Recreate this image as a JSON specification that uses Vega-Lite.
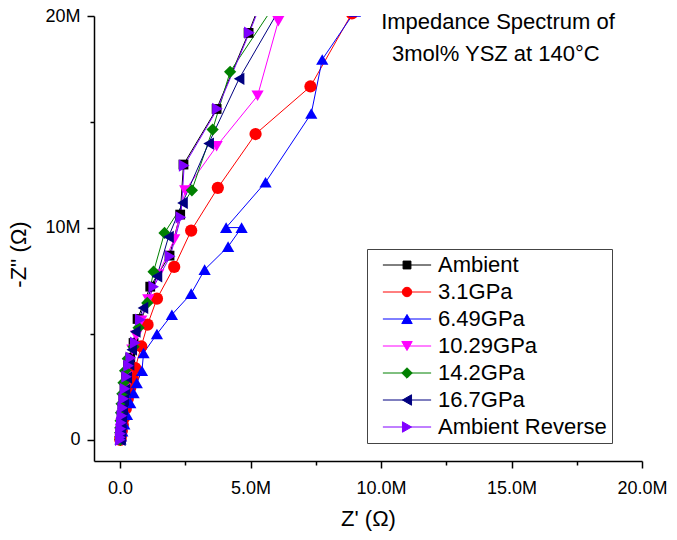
{
  "$schema": "https://vega.github.io/schema/vega-lite/v6.json",
  "width": 548,
  "height": 445,
  "autosize": {"type": "none"},
  "padding": {"left": 94, "top": 16, "right": 35, "bottom": 79},
  "background": "white",
  "config": {
    "view": {"stroke": null},
    "font": "Liberation Sans",
    "axis": {
      "grid": false,
      "domainColor": "black",
      "domainWidth": 1.5,
      "tickColor": "black",
      "tickWidth": 1.5,
      "labelFont": "Liberation Sans",
      "labelFontSize": 18,
      "labelColor": "black",
      "titleFont": "Liberation Sans",
      "titleFontSize": 22,
      "titleFontWeight": "normal",
      "titleColor": "black"
    }
  },
  "data": {
    "values": [
      {"s": "Ambient", "n": 1, "x": 8000, "y": 0},
      {"s": "Ambient", "n": 2, "x": 8000, "y": 118000},
      {"s": "Ambient", "n": 3, "x": 15000, "y": 283000},
      {"s": "Ambient", "n": 4, "x": 27000, "y": 520000},
      {"s": "Ambient", "n": 5, "x": 42000, "y": 803000},
      {"s": "Ambient", "n": 6, "x": 61000, "y": 1134000},
      {"s": "Ambient", "n": 7, "x": 92000, "y": 1512000},
      {"s": "Ambient", "n": 8, "x": 126000, "y": 1937000},
      {"s": "Ambient", "n": 9, "x": 172000, "y": 2409000},
      {"s": "Ambient", "n": 10, "x": 230000, "y": 2976000},
      {"s": "Ambient", "n": 11, "x": 306000, "y": 3496000},
      {"s": "Ambient", "n": 12, "x": 390000, "y": 3873000},
      {"s": "Ambient", "n": 13, "x": 516000, "y": 4568000},
      {"s": "Ambient", "n": 14, "x": 669000, "y": 5702000},
      {"s": "Ambient", "n": 15, "x": 1155000, "y": 7227000},
      {"s": "Ambient", "n": 16, "x": 1894000, "y": 8692000},
      {"s": "Ambient", "n": 17, "x": 2303000, "y": 10628000},
      {"s": "Ambient", "n": 18, "x": 2429000, "y": 12990000},
      {"s": "Ambient", "n": 19, "x": 3699000, "y": 15612000},
      {"s": "Ambient", "n": 20, "x": 4924000, "y": 19202000},
      {"s": "Ambient", "n": 21, "x": 5478000, "y": 20973000},

      {"s": "3.1GPa", "n": 1, "x": 8000, "y": 0},
      {"s": "3.1GPa", "n": 2, "x": 19000, "y": 94000},
      {"s": "3.1GPa", "n": 3, "x": 38000, "y": 236000},
      {"s": "3.1GPa", "n": 4, "x": 65000, "y": 425000},
      {"s": "3.1GPa", "n": 5, "x": 103000, "y": 709000},
      {"s": "3.1GPa", "n": 6, "x": 153000, "y": 1039000},
      {"s": "3.1GPa", "n": 7, "x": 218000, "y": 1464000},
      {"s": "3.1GPa", "n": 8, "x": 295000, "y": 1937000},
      {"s": "3.1GPa", "n": 9, "x": 390000, "y": 2456000},
      {"s": "3.1GPa", "n": 10, "x": 486000, "y": 2929000},
      {"s": "3.1GPa", "n": 11, "x": 581000, "y": 3387000},
      {"s": "3.1GPa", "n": 12, "x": 811000, "y": 4407000},
      {"s": "3.1GPa", "n": 13, "x": 1052000, "y": 5432000},
      {"s": "3.1GPa", "n": 14, "x": 1412000, "y": 6660000},
      {"s": "3.1GPa", "n": 15, "x": 2073000, "y": 8158000},
      {"s": "3.1GPa", "n": 16, "x": 2724000, "y": 9873000},
      {"s": "3.1GPa", "n": 17, "x": 3745000, "y": 11890000},
      {"s": "3.1GPa", "n": 18, "x": 5191000, "y": 14431000},
      {"s": "3.1GPa", "n": 19, "x": 7295000, "y": 16675000},
      {"s": "3.1GPa", "n": 20, "x": 8883000, "y": 20123000},
      {"s": "3.1GPa", "n": 21, "x": 9648000, "y": 21729000},

      {"s": "6.49GPa", "n": 1, "x": 15000, "y": 24000},
      {"s": "6.49GPa", "n": 2, "x": 38000, "y": 165000},
      {"s": "6.49GPa", "n": 3, "x": 84000, "y": 402000},
      {"s": "6.49GPa", "n": 4, "x": 161000, "y": 732000},
      {"s": "6.49GPa", "n": 5, "x": 264000, "y": 1181000},
      {"s": "6.49GPa", "n": 6, "x": 390000, "y": 1734000},
      {"s": "6.49GPa", "n": 7, "x": 516000, "y": 2206000},
      {"s": "6.49GPa", "n": 8, "x": 639000, "y": 2678000},
      {"s": "6.49GPa", "n": 9, "x": 838000, "y": 3259000},
      {"s": "6.49GPa", "n": 10, "x": 899000, "y": 4095000},
      {"s": "6.49GPa", "n": 11, "x": 1412000, "y": 4993000},
      {"s": "6.49GPa", "n": 12, "x": 1985000, "y": 5905000},
      {"s": "6.49GPa", "n": 13, "x": 2724000, "y": 6897000},
      {"s": "6.49GPa", "n": 14, "x": 3240000, "y": 8030000},
      {"s": "6.49GPa", "n": 15, "x": 4139000, "y": 9117000},
      {"s": "6.49GPa", "n": 16, "x": 4656000, "y": 10014000},
      {"s": "6.49GPa", "n": 17, "x": 4063000, "y": 10014000},
      {"s": "6.49GPa", "n": 18, "x": 5574000, "y": 12154000},
      {"s": "6.49GPa", "n": 19, "x": 7326000, "y": 15399000},
      {"s": "6.49GPa", "n": 20, "x": 7747000, "y": 17950000},
      {"s": "6.49GPa", "n": 21, "x": 8998000, "y": 20217000},
      {"s": "6.49GPa", "n": 22, "x": 9763000, "y": 21729000},

      {"s": "10.29GPa", "n": 1, "x": 8000, "y": 0},
      {"s": "10.29GPa", "n": 2, "x": 11000, "y": 118000},
      {"s": "10.29GPa", "n": 3, "x": 19000, "y": 283000},
      {"s": "10.29GPa", "n": 4, "x": 31000, "y": 496000},
      {"s": "10.29GPa", "n": 5, "x": 46000, "y": 756000},
      {"s": "10.29GPa", "n": 6, "x": 69000, "y": 1086000},
      {"s": "10.29GPa", "n": 7, "x": 99000, "y": 1464000},
      {"s": "10.29GPa", "n": 8, "x": 138000, "y": 1889000},
      {"s": "10.29GPa", "n": 9, "x": 191000, "y": 2409000},
      {"s": "10.29GPa", "n": 10, "x": 256000, "y": 2976000},
      {"s": "10.29GPa", "n": 11, "x": 352000, "y": 3590000},
      {"s": "10.29GPa", "n": 12, "x": 467000, "y": 4251000},
      {"s": "10.29GPa", "n": 13, "x": 620000, "y": 4913000},
      {"s": "10.29GPa", "n": 14, "x": 811000, "y": 5621000},
      {"s": "10.29GPa", "n": 15, "x": 1079000, "y": 6613000},
      {"s": "10.29GPa", "n": 16, "x": 1461000, "y": 7794000},
      {"s": "10.29GPa", "n": 17, "x": 2073000, "y": 9447000},
      {"s": "10.29GPa", "n": 18, "x": 2494000, "y": 11762000},
      {"s": "10.29GPa", "n": 19, "x": 3699000, "y": 13855000},
      {"s": "10.29GPa", "n": 20, "x": 5268000, "y": 16235000},
      {"s": "10.29GPa", "n": 21, "x": 6064000, "y": 19759000},
      {"s": "10.29GPa", "n": 22, "x": 6320000, "y": 22201000},

      {"s": "14.2GPa", "n": 1, "x": 8000, "y": 0},
      {"s": "14.2GPa", "n": 2, "x": 4000, "y": 142000},
      {"s": "14.2GPa", "n": 3, "x": 4000, "y": 331000},
      {"s": "14.2GPa", "n": 4, "x": 8000, "y": 567000},
      {"s": "14.2GPa", "n": 5, "x": 19000, "y": 898000},
      {"s": "14.2GPa", "n": 6, "x": 34000, "y": 1275000},
      {"s": "14.2GPa", "n": 7, "x": 57000, "y": 1701000},
      {"s": "14.2GPa", "n": 8, "x": 88000, "y": 2173000},
      {"s": "14.2GPa", "n": 9, "x": 130000, "y": 2693000},
      {"s": "14.2GPa", "n": 10, "x": 191000, "y": 3259000},
      {"s": "14.2GPa", "n": 11, "x": 295000, "y": 3826000},
      {"s": "14.2GPa", "n": 12, "x": 516000, "y": 4393000},
      {"s": "14.2GPa", "n": 13, "x": 708000, "y": 5291000},
      {"s": "14.2GPa", "n": 14, "x": 1041000, "y": 6457000},
      {"s": "14.2GPa", "n": 15, "x": 1282000, "y": 7936000},
      {"s": "14.2GPa", "n": 16, "x": 1702000, "y": 9764000},
      {"s": "14.2GPa", "n": 17, "x": 2751000, "y": 11776000},
      {"s": "14.2GPa", "n": 18, "x": 3546000, "y": 14643000},
      {"s": "14.2GPa", "n": 19, "x": 4216000, "y": 17369000},
      {"s": "14.2GPa", "n": 20, "x": 6320000, "y": 21257000},

      {"s": "16.7GPa", "n": 1, "x": 8000, "y": 0},
      {"s": "16.7GPa", "n": 2, "x": 11000, "y": 118000},
      {"s": "16.7GPa", "n": 3, "x": 19000, "y": 283000},
      {"s": "16.7GPa", "n": 4, "x": 31000, "y": 496000},
      {"s": "16.7GPa", "n": 5, "x": 46000, "y": 756000},
      {"s": "16.7GPa", "n": 6, "x": 69000, "y": 1086000},
      {"s": "16.7GPa", "n": 7, "x": 99000, "y": 1464000},
      {"s": "16.7GPa", "n": 8, "x": 138000, "y": 1889000},
      {"s": "16.7GPa", "n": 9, "x": 187000, "y": 2362000},
      {"s": "16.7GPa", "n": 10, "x": 256000, "y": 2929000},
      {"s": "16.7GPa", "n": 11, "x": 344000, "y": 3543000},
      {"s": "16.7GPa", "n": 12, "x": 448000, "y": 4251000},
      {"s": "16.7GPa", "n": 13, "x": 581000, "y": 5102000},
      {"s": "16.7GPa", "n": 14, "x": 876000, "y": 6221000},
      {"s": "16.7GPa", "n": 15, "x": 1412000, "y": 7714000},
      {"s": "16.7GPa", "n": 16, "x": 1855000, "y": 9575000},
      {"s": "16.7GPa", "n": 17, "x": 2391000, "y": 11181000},
      {"s": "16.7GPa", "n": 18, "x": 3393000, "y": 13982000},
      {"s": "16.7GPa", "n": 19, "x": 4560000, "y": 17038000},
      {"s": "16.7GPa", "n": 20, "x": 6588000, "y": 21351000},

      {"s": "Ambient Reverse", "n": 1, "x": 8000, "y": 0},
      {"s": "Ambient Reverse", "n": 2, "x": 11000, "y": 118000},
      {"s": "Ambient Reverse", "n": 3, "x": 19000, "y": 283000},
      {"s": "Ambient Reverse", "n": 4, "x": 31000, "y": 520000},
      {"s": "Ambient Reverse", "n": 5, "x": 46000, "y": 803000},
      {"s": "Ambient Reverse", "n": 6, "x": 69000, "y": 1134000},
      {"s": "Ambient Reverse", "n": 7, "x": 99000, "y": 1512000},
      {"s": "Ambient Reverse", "n": 8, "x": 138000, "y": 1937000},
      {"s": "Ambient Reverse", "n": 9, "x": 187000, "y": 2409000},
      {"s": "Ambient Reverse", "n": 10, "x": 249000, "y": 2976000},
      {"s": "Ambient Reverse", "n": 11, "x": 325000, "y": 3496000},
      {"s": "Ambient Reverse", "n": 12, "x": 409000, "y": 3873000},
      {"s": "Ambient Reverse", "n": 13, "x": 581000, "y": 4582000},
      {"s": "Ambient Reverse", "n": 14, "x": 773000, "y": 5668000},
      {"s": "Ambient Reverse", "n": 15, "x": 1289000, "y": 7227000},
      {"s": "Ambient Reverse", "n": 16, "x": 1920000, "y": 8659000},
      {"s": "Ambient Reverse", "n": 17, "x": 2330000, "y": 10501000},
      {"s": "Ambient Reverse", "n": 18, "x": 2456000, "y": 12943000},
      {"s": "Ambient Reverse", "n": 19, "x": 3730000, "y": 15621000},
      {"s": "Ambient Reverse", "n": 20, "x": 4954000, "y": 19211000},
      {"s": "Ambient Reverse", "n": 21, "x": 5517000, "y": 20973000}
    ]
  },
  "layer": [
    {
      "mark": {"type": "line", "clip": true, "strokeWidth": 1},
      "encoding": {
        "x": {
          "field": "x",
          "type": "quantitative",
          "scale": {"domain": [-1000000, 20000000], "nice": false, "zero": false},
          "axis": {
            "title": "Z' (Ω)",
            "values": [0, 2500000, 5000000, 7500000, 10000000, 12500000, 15000000, 17500000, 20000000],
            "labelExpr": "datum.value % 5000000 == 0 ? (datum.value == 0 ? '0.0' : format(datum.value / 1000000, '.1f') + 'M') : ''",
            "tickSize": {"condition": {"test": "datum.value % 5000000 != 0", "value": 4}, "value": 7},
            "labelPadding": 11,
            "titlePadding": 11,
            "labelFlush": false,
            "labelOverlap": false
          }
        },
        "y": {
          "field": "y",
          "type": "quantitative",
          "scale": {"domain": [-1000000, 20000000], "nice": false, "zero": false},
          "axis": {
            "title": "-Z'' (Ω)",
            "titleY": 238,
            "values": [0, 5000000, 10000000, 15000000, 20000000],
            "labelExpr": "datum.value % 10000000 == 0 ? (datum.value == 0 ? '0' : format(datum.value / 1000000, 'd') + 'M') : ''",
            "tickSize": {"condition": {"test": "datum.value % 10000000 != 0", "value": 4}, "value": 7},
            "labelPadding": 7,
            "titlePadding": 14,
            "labelFlush": false,
            "labelOverlap": false
          }
        },
        "color": {
          "field": "s",
          "type": "nominal",
          "scale": {
            "domain": ["Ambient", "3.1GPa", "6.49GPa", "10.29GPa", "14.2GPa", "16.7GPa", "Ambient Reverse"],
            "range": ["#000000", "#FF0000", "#0000FF", "#FF00FF", "#008000", "#000080", "#8000FF"]
          }
        },
        "order": {"field": "n", "type": "quantitative"}
      }
    },
    {
      "transform": [{"filter": {"field": "s", "equal": "Ambient"}}],
      "mark": {"type": "point", "shape": "M-0.8,-0.8H0.8V0.8H-0.8Z", "filled": true, "color": "#000000", "opacity": 1, "size": 150, "strokeWidth": 0, "clip": true},
      "encoding": {"x": {"field": "x", "type": "quantitative"}, "y": {"field": "y", "type": "quantitative"}}
    },
    {
      "transform": [{"filter": {"field": "s", "equal": "3.1GPa"}}],
      "mark": {"type": "point", "shape": "circle", "filled": true, "color": "#FF0000", "opacity": 1, "size": 150, "strokeWidth": 0, "clip": true},
      "encoding": {"x": {"field": "x", "type": "quantitative"}, "y": {"field": "y", "type": "quantitative"}}
    },
    {
      "transform": [{"filter": {"field": "s", "equal": "6.49GPa"}}],
      "mark": {"type": "point", "shape": "triangle-up", "filled": true, "color": "#0000FF", "opacity": 1, "size": 150, "strokeWidth": 0, "clip": true},
      "encoding": {"x": {"field": "x", "type": "quantitative"}, "y": {"field": "y", "type": "quantitative"}}
    },
    {
      "transform": [{"filter": {"field": "s", "equal": "10.29GPa"}}],
      "mark": {"type": "point", "shape": "triangle-down", "filled": true, "color": "#FF00FF", "opacity": 1, "size": 150, "strokeWidth": 0, "clip": true},
      "encoding": {"x": {"field": "x", "type": "quantitative"}, "y": {"field": "y", "type": "quantitative"}}
    },
    {
      "transform": [{"filter": {"field": "s", "equal": "14.2GPa"}}],
      "mark": {"type": "point", "shape": "diamond", "filled": true, "color": "#008000", "opacity": 1, "size": 150, "strokeWidth": 0, "clip": true},
      "encoding": {"x": {"field": "x", "type": "quantitative"}, "y": {"field": "y", "type": "quantitative"}}
    },
    {
      "transform": [{"filter": {"field": "s", "equal": "16.7GPa"}}],
      "mark": {"type": "point", "shape": "triangle-left", "filled": true, "color": "#000080", "opacity": 1, "size": 150, "strokeWidth": 0, "clip": true},
      "encoding": {"x": {"field": "x", "type": "quantitative"}, "y": {"field": "y", "type": "quantitative"}}
    },
    {
      "transform": [{"filter": {"field": "s", "equal": "Ambient Reverse"}}],
      "mark": {"type": "point", "shape": "triangle-right", "filled": true, "color": "#8000FF", "opacity": 1, "size": 150, "strokeWidth": 0, "clip": true},
      "encoding": {"x": {"field": "x", "type": "quantitative"}, "y": {"field": "y", "type": "quantitative"}}
    },
    {
      "mark": {"type": "point", "filled": true, "opacity": 0, "clip": true},
      "encoding": {
        "x": {"field": "x", "type": "quantitative"},
        "y": {"field": "y", "type": "quantitative"},
        "color": {
          "field": "s",
          "type": "nominal",
          "scale": {
            "domain": ["Ambient", "3.1GPa", "6.49GPa", "10.29GPa", "14.2GPa", "16.7GPa", "Ambient Reverse"],
            "range": ["#000000", "#FF0000", "#0000FF", "#FF00FF", "#008000", "#000080", "#8000FF"]
          },
          "legend": {
            "title": null,
            "orient": "none",
            "legendX": 273,
            "legendY": 233,
            "padding": 5,
            "rowPadding": 5,
            "labelFont": "Liberation Sans",
            "labelFontSize": 22,
            "labelColor": "black",
            "labelLimit": 400,
            "symbolSize": 110,
            "symbolStrokeWidth": 1,
            "symbolOffset": 24,
            "labelOffset": 20,
            "symbolOpacity": 1,
            "strokeColor": "#444444",
            "fillColor": "white"
          }
        },
        "shape": {
          "field": "s",
          "type": "nominal",
          "scale": {
            "domain": ["Ambient", "3.1GPa", "6.49GPa", "10.29GPa", "14.2GPa", "16.7GPa", "Ambient Reverse"],
            "range": [
              "M-4.6,0H4.6M-0.75,-0.75H0.75V0.75H-0.75Z",
              "M-4.6,0H4.6M0.9,0A0.9,0.9,0,1,1,-0.9,0A0.9,0.9,0,1,1,0.9,0Z",
              "M-4.6,0H4.6M0,-0.866L1,0.866L-1,0.866Z",
              "M-4.6,0H4.6M0,0.866L1,-0.866L-1,-0.866Z",
              "M-4.6,0H4.6M-1,0L0,-1L1,0L0,1Z",
              "M-4.6,0H4.6M-0.866,0L0.866,-1L0.866,1Z",
              "M-4.6,0H4.6M0.866,0L-0.866,-1L-0.866,1Z"
            ]
          },
          "legend": {
            "title": null,
            "orient": "none",
            "legendX": 273,
            "legendY": 233,
            "padding": 5,
            "rowPadding": 5,
            "labelFont": "Liberation Sans",
            "labelFontSize": 22,
            "labelColor": "black",
            "labelLimit": 400,
            "symbolSize": 110,
            "symbolStrokeWidth": 1,
            "symbolOffset": 24,
            "labelOffset": 20,
            "symbolOpacity": 1,
            "strokeColor": "#444444",
            "fillColor": "white"
          }
        }
      }
    },
    {
      "data": {"values": [{}]},
      "mark": {"type": "text", "text": "Impedance Spectrum of", "font": "Liberation Sans", "fontSize": 22, "align": "center", "baseline": "middle", "color": "black"},
      "encoding": {
        "x": {"datum": 14480000, "type": "quantitative"},
        "y": {"datum": 19700000, "type": "quantitative"}
      }
    },
    {
      "data": {"values": [{}]},
      "mark": {"type": "text", "text": "3mol% YSZ at 140°C", "font": "Liberation Sans", "fontSize": 22, "align": "center", "baseline": "middle", "color": "black"},
      "encoding": {
        "x": {"datum": 14400000, "type": "quantitative"},
        "y": {"datum": 18230000, "type": "quantitative"}
      }
    }
  ]
}
